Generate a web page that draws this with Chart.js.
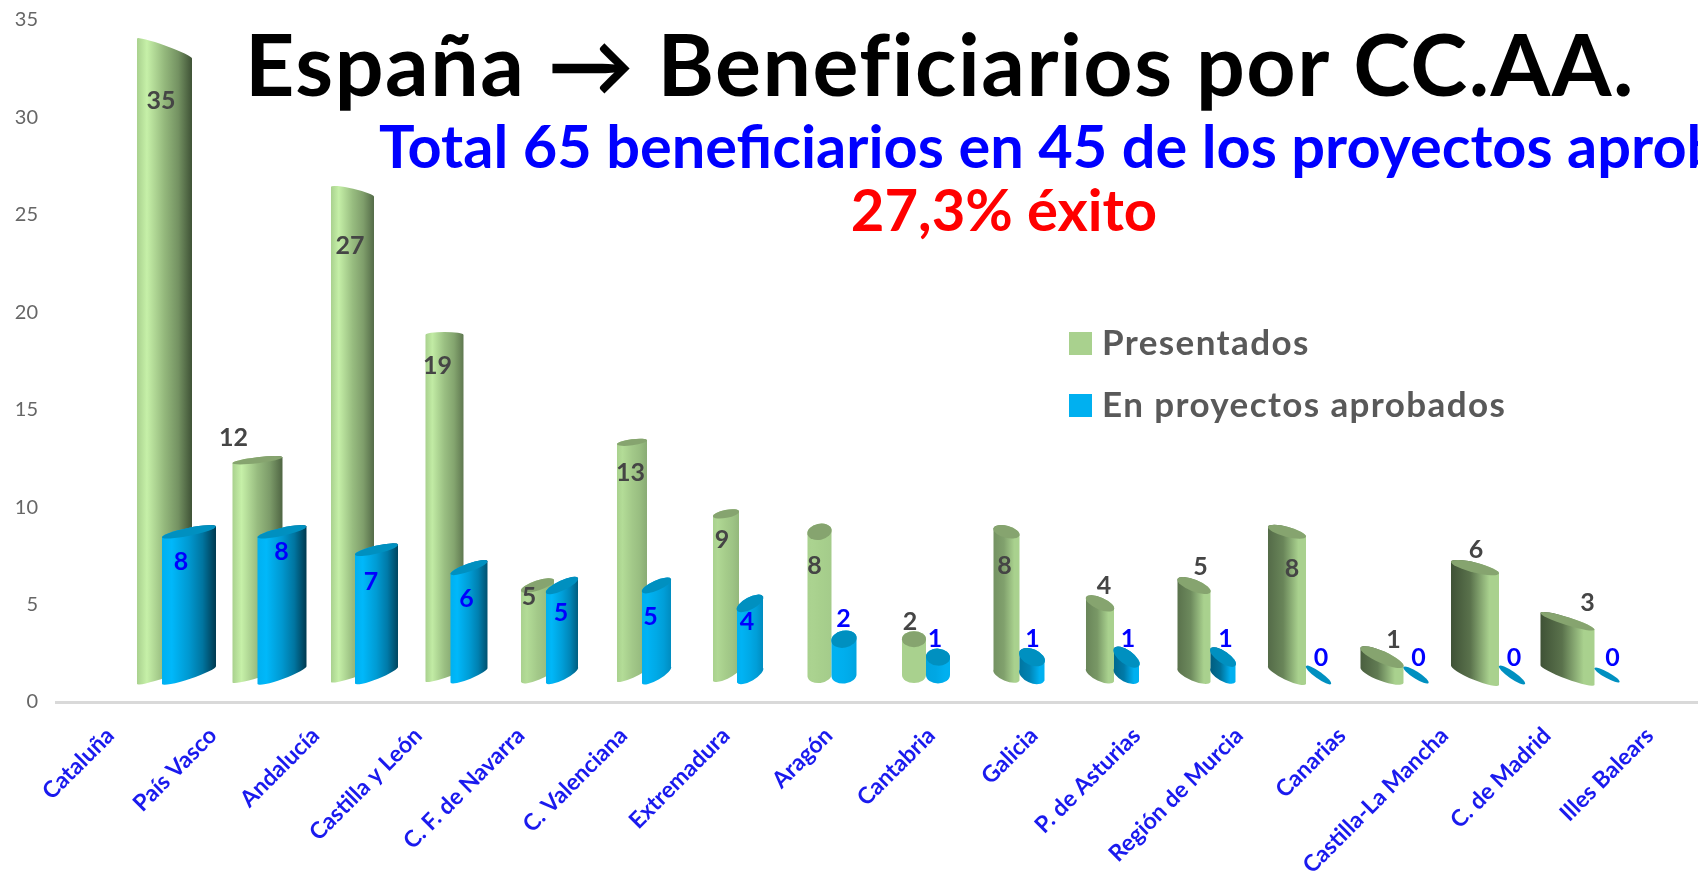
<!DOCTYPE html>
<html lang="es">
<head>
<meta charset="utf-8">
<title>España → Beneficiarios por CC.AA.</title>
<script src="https://cdn.jsdelivr.net/npm/chart.js@4/dist/chart.umd.min.js"></script>
<style>html,body{margin:0;padding:0;background:#fff}canvas{display:block}</style>
</head>
<body>
<canvas id="c" width="1698" height="882"></canvas>
<script>
// ---- data ----
const categories = ['Cataluña','País Vasco','Andalucía','Castilla y León','C. F. de Navarra','C. Valenciana','Extremadura','Aragón','Cantabria','Galicia','P. de Asturias','Región de Murcia','Canarias','Castilla-La Mancha','C. de Madrid','Illes Balears'];
const presentados = [35,12,27,19,5,13,9,8,2,8,4,5,8,1,6,3];
const aprobados   = [8,8,7,6,5,5,4,2,1,1,1,1,0,0,0,0];
const yTicks = [0,5,10,15,20,25,30,35];
const titleText = 'España → Beneficiarios por CC.AA.';
const subtitleText = 'Total 65 beneficiarios en 45 de los proyectos aprobados';
const successText = '27,3% éxito';

// ---- appearance of the perspective cylinders (not data) ----
const nudge = [0,0,2,2,2,2.5,2,1,0,-2,-3,-2,-2,0,0,0];
const look = [
 { // Presentados
  left:[25,25,24,25,25,25,24,24,24,26,28,33,38,43,48,54],
  right:[30,25,19,13,8,5,2,0,0,0,0,0,0,0,0,0],
  capTilt:[20,-6,10,0,-11,-4,-5,-5,0,7,12,13,10,19,12,17],
  baseTilt:[-18,-15,-14,-13,-14,-13,-12,-3,0,11,13,14,18,16,20,20],
  ry:[3,3,3,3,5,3,4,8,8,6,6,6,5,6,5,4],
  face:[0,1,0,0,1,1,1,1,1,1,1,1,1,1,1,1],
  shade:[-1,-.85,-.8,-.7,-.3,-.3,-.2,-.05,0,.5,.6,.75,.8,.9,1,1],
  base:'#a9d18e',light:'#c6f0a8',dark:'#3f5236',cap:'#86a46f',
  labelColor:'#454545',labelFont:'bold 25px Lato',
  dx:[-1,-24,-3,-11,-15,-9,-13,-16,-16,-17,-13,-12,-16,-10,-23,-7],
  dy:[52,-22,54,31,11,31,26,34,-17,34,-17,-19,37,-17,-18,-18]
 },
 { // En proyectos aprobados
  left:new Array(16).fill(0),
  right:[54,49,43,37,32,29,26,25,24,25,25,25,25,25,26,25],
  capTilt:[-11,-11,-10,-13,-15,-13,-14,-5,2,11,18,17,18,16,18,14],
  baseTilt:[-18,-18,-17,-15,-16,-17,-15,-3,0,11,13,14,18,16,18,14],
  ry:[4,4,4,4,5,5,6,8.5,8.5,8,7,6,3.5,3.5,3.5,3],
  face:new Array(16).fill(1),
  shade:[-1,-1,-.9,-.8,-.7,-.3,-.3,-.1,.1,.5,.6,.7,0,0,0,0],
  base:'#00b0f0',light:'#00b8fa',dark:'#00394f',cap:'#0090c0',
  labelColor:'#0000ff',labelFont:'bold 25px Lato',
  dx:[19,24,18,18,17,11,12,13,9,11,11,13,13,15,15,18],
  dy:[30,20,32,31,27,31,19,-20,-18,-18,-18,-18,-17,-17,-17,-17]
 }
];

function hex(c){return [1,3,5].map(k=>parseInt(c.substr(k,2),16));}
function mix(a,b,t){const A=hex(a),B=hex(b);return 'rgb('+A.map((v,k)=>Math.round(v+(B[k]-v)*t)).join(',')+')';}
function bodyGradient(ctx,x0,x1,st,s){
  const g=ctx.createLinearGradient(x0,0,x1,0),a=Math.abs(s);
  if(s<=0){
    g.addColorStop(0,st.base);
    g.addColorStop(.18,mix(st.base,st.light,Math.min(1,a*1.2)));
    g.addColorStop(.5,mix(st.base,st.dark,.2*a));
    g.addColorStop(.75,mix(st.base,st.dark,.5*a));
    g.addColorStop(1,mix(st.base,st.dark,a));
  }else{
    g.addColorStop(0,mix(st.base,st.dark,a));
    g.addColorStop(.4,mix(st.base,st.dark,.75*a));
    g.addColorStop(.8,st.base);
    g.addColorStop(1,st.base);
  }
  return g;
}

class Cylinder extends Chart.BarController{
  draw(){
    const meta=this.getMeta(),ctx=this.chart.ctx,st=look[this.index],xs=meta.xScale;
    meta.data.forEach((el,i)=>{
      const c=xs.getPixelForValue(i)+nudge[i],x0=c-st.left[i],x1=c+st.right[i],w=x1-x0,m=(x0+x1)/2;
      const yt=el.y,yb=el.base,ry=st.ry[i],ct=st.capTilt[i],bt=st.baseTilt[i];
      const rc=Math.hypot(w,ct)/2,rb=Math.hypot(w,bt)/2,ac=Math.atan2(ct,w),ab=Math.atan2(bt,w);
      ctx.save();
      if(yb-yt>0.5){
        ctx.beginPath();
        ctx.ellipse(m,yb,rb,ry,ab,0,Math.PI);
        ctx.ellipse(m,yt,rc,ry,ac,Math.PI,2*Math.PI);
        ctx.closePath();
        ctx.fillStyle=bodyGradient(ctx,x0,x1,st,st.shade[i]);
        ctx.fill();
      }
      if(st.face[i]){
        ctx.beginPath();
        ctx.ellipse(m,yt,rc,ry,ac,0,2*Math.PI);
        ctx.fillStyle=st.cap;
        ctx.fill();
      }
      ctx.restore();
    });
  }
}
Cylinder.id='cylinder';
Cylinder.defaults=Chart.BarController.defaults;
Cylinder.overrides=Chart.BarController.overrides;
Chart.register(Cylinder);

const annotations={
  id:'annotations',
  afterDraw(chart){
    const ctx=chart.ctx;
    ctx.save();
    // value labels
    ctx.textAlign='center';ctx.textBaseline='middle';
    chart.data.datasets.forEach((ds,d)=>{
      const st=look[d],meta=chart.getDatasetMeta(d);
      ctx.fillStyle=st.labelColor;
      ctx.font=st.labelFont;
      meta.data.forEach((el,i)=>{
        const c=meta.xScale.getPixelForValue(i);
        ctx.fillText(String(ds.data[i].y),c+st.dx[i],el.y+st.dy[i]);
      });
    });
    // headings
    ctx.textAlign='left';ctx.textBaseline='alphabetic';
    ctx.fillStyle='#000';ctx.font='bold 86px Lato';
    ctx.letterSpacing='1.5px';
    ctx.fillText(titleText,245,96);
    ctx.letterSpacing='0px';
    ctx.fillStyle='#0000ff';ctx.font='bold 59.5px Lato';
    ctx.fillText(subtitleText,379,168);
    ctx.fillStyle='#ff0000';ctx.font='bold 58px Lato';
    ctx.textAlign='center';
    ctx.fillText(successText,1004,231);
    // legend
    ctx.textAlign='left';ctx.textBaseline='middle';
    ctx.font='bold 35px Lato';
    ctx.letterSpacing='1.4px';
    chart.data.datasets.forEach((ds,d)=>{
      const y=344+d*62;
      ctx.fillStyle=look[d].base;
      ctx.fillRect(1069,y-12,23,23);
      ctx.fillStyle='#595959';
      ctx.fillText(ds.label,1102,y);
    });
    ctx.restore();
  }
};

new Chart(document.getElementById('c'),{
  type:'bar',
  data:{
    labels:categories,
    datasets:[
      {type:'cylinder',label:'Presentados',data:presentados.map((v,i)=>({x:i,y:v})),xAxisID:'xBar',yAxisID:'yBar',order:2,backgroundColor:look[0].base},
      {type:'cylinder',label:'En proyectos aprobados',data:aprobados.map((v,i)=>({x:i,y:v})),xAxisID:'xBar',yAxisID:'yBar',order:1,backgroundColor:look[1].base}
    ]
  },
  options:{
    responsive:false,animation:false,
    layout:{padding:{top:20,left:0,right:0,bottom:0}},
    plugins:{legend:{display:false},title:{display:false},tooltip:{enabled:false}},
    scales:{
      x:{type:'category',labels:categories,offset:true,position:'bottom',
         grid:{display:false,drawTicks:false},
         border:{display:true,color:'#d9d9d9',width:3},
         ticks:{autoSkip:false,minRotation:45,maxRotation:45,padding:20,labelOffset:3,color:'#1a1aee',font:{family:'Lato',size:23,weight:'bold'}},
         afterFit(s){s.height=180;s.paddingLeft=0;s.paddingRight=0;}},
      y:{type:'linear',min:0,max:35,position:'left',
         grid:{display:false,drawTicks:false},border:{display:false},
         afterBuildTicks(s){s.ticks=yTicks.map(v=>({value:v}));},
         ticks:{padding:18,color:'#666666',font:{family:'Lato',size:20}},
         afterFit(s){s.width=56;s.paddingTop=0;s.paddingBottom=0;}},
      // the columns stand on a plane set back from the flat axes
      xBar:{type:'linear',axis:'x',display:false,offset:false,min:-1.1099,max:16.0838,grid:{offset:false}},
      yBar:{type:'linear',axis:'y',display:false,min:-1.5084,max:36.5922}
    }
  },
  plugins:[annotations]
});
</script>
</body>
</html>
